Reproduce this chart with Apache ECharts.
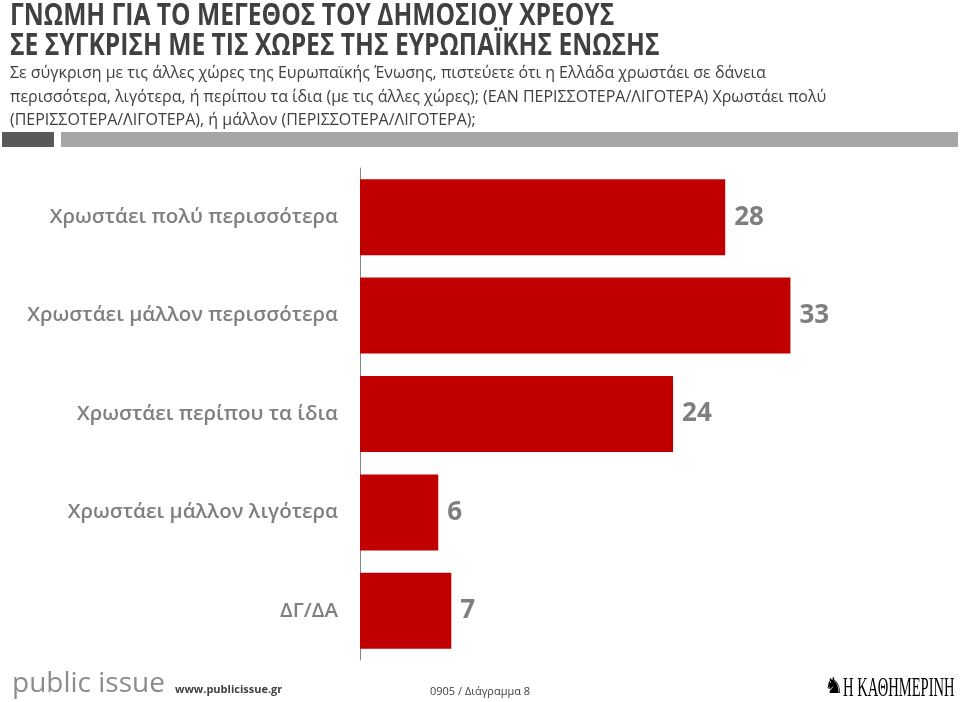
<!DOCTYPE html>
<html><head><meta charset="utf-8">
<script src="https://cdn.jsdelivr.net/npm/echarts@6/dist/echarts.min.js"></script>
<style>html,body{margin:0;padding:0;background:#fff}#c{width:960px;height:702px}</style>
</head><body><div id="c"></div>
<script>
const categories = ['Χρωστάει πολύ περισσότερα','Χρωστάει μάλλον περισσότερα','Χρωστάει περίπου τα ίδια','Χρωστάει μάλλον λιγότερα','ΔΓ/ΔΑ'];
const values = [28, 33, 24, 6, 7];
const titleLines = ['ΓΝΩΜΗ ΓΙΑ ΤΟ ΜΕΓΕΘΟΣ ΤΟΥ ΔΗΜΟΣΙΟΥ ΧΡΕΟΥΣ','ΣΕ ΣΥΓΚΡΙΣΗ ΜΕ ΤΙΣ ΧΩΡΕΣ ΤΗΣ ΕΥΡΩΠΑΪΚΗΣ ΕΝΩΣΗΣ'];
const subtitleLines = ['Σε σύγκριση με τις άλλες χώρες της Ευρωπαϊκής Ένωσης, πιστεύετε ότι η Ελλάδα χρωστάει σε δάνεια',
 'περισσότερα, λιγότερα, ή περίπου τα ίδια (με τις άλλες χώρες); (ΕΑΝ ΠΕΡΙΣΣΟΤΕΡΑ/ΛΙΓΟΤΕΡΑ) Χρωστάει πολύ',
 '(ΠΕΡΙΣΣΟΤΕΡΑ/ΛΙΓΟΤΕΡΑ), ή μάλλον (ΠΕΡΙΣΣΟΤΕΡΑ/ΛΙΓΟΤΕΡΑ);'];

const chart = echarts.init(document.getElementById('c'));
const g = [];
titleLines.forEach((t,i)=>g.push({type:'text',x:10,y:1+i*30,scaleX:0.82,style:{text:t,font:'bold 30px "Open Sans"',fill:'#404040'}}));
subtitleLines.forEach((t,i)=>g.push({type:'text',x:10,y:65+i*23.5,scaleX:0.94,style:{text:t,font:'17px "Open Sans"',fill:'#404040'}}));
g.push({type:'rect',shape:{x:2,y:132,width:52,height:15},style:{fill:'#595959'}});
g.push({type:'rect',shape:{x:61,y:132,width:897,height:15},style:{fill:'#a6a6a6'}});
g.push({type:'text',x:12,y:670,style:{text:'public issue',font:'28px "Open Sans"',fill:'#8c8c8c'}});
g.push({type:'text',x:175,y:684,style:{text:'www.publicissue.gr',font:'bold 11px "Open Sans"',fill:'#404040'}});
g.push({type:'text',x:430,y:686,style:{text:'0905 / Διάγραμμα 8',font:'11px "Open Sans"',fill:'#404040'}});
g.push({type:'text',x:824,y:676,style:{text:'♞',font:'22px "DejaVu Sans"',fill:'#000'}});
g.push({type:'text',x:843,y:675,scaleX:0.54,style:{text:'Η ΚΑΘΗΜΕΡΙΝΗ',font:'27px "Liberation Serif"',fill:'#000'}});

chart.setOption({
  animation:false,
  graphic:g,
  grid:{left:360,top:168,width:601,height:492,containLabel:false},
  xAxis:{type:'value',min:0,max:46,show:false},
  yAxis:{type:'category',data:categories,inverse:true,
    axisLine:{lineStyle:{color:'#868686',width:1}},
    axisTick:{length:7,lineStyle:{color:'#868686'}},
    axisLabel:{margin:22,color:'#7f7f7f',fontSize:20.5,fontWeight:600,fontFamily:'Open Sans'}},
  series:[{type:'bar',data:values,barWidth:76,itemStyle:{color:'#c00000'},
    label:{show:true,position:'right',distance:9,color:'#7f7f7f',fontSize:26,fontWeight:'bold',fontFamily:'Open Sans'}}]
});
</script></body></html>
